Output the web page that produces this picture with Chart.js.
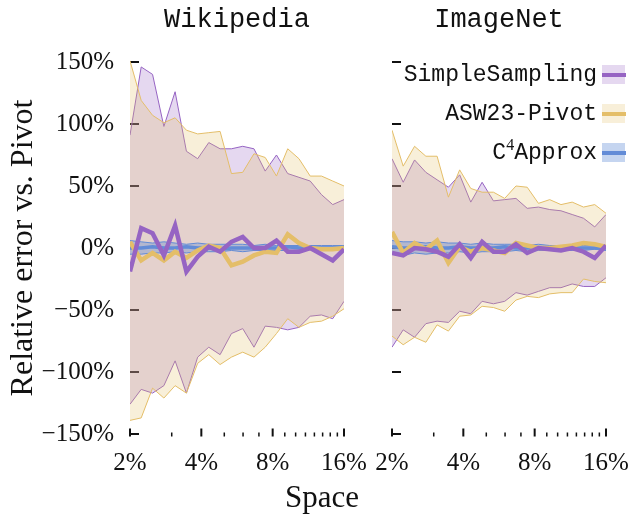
<!DOCTYPE html>
<html>
<head>
<meta charset="utf-8">
<script src="https://cdn.jsdelivr.net/npm/chart.js@4.4.1/dist/chart.umd.min.js"></script>
<style>
  body { margin: 0; background: #fff; }
  #figure { position: relative; width: 628px; height: 518px; overflow: hidden; }
  canvas { position: absolute; top: 0; }
  #wiki-canvas { left: 0; }
  #imagenet-canvas { left: 356px; }
  .panel-title { position: absolute; top: 2px; line-height: 36px; font-family: "Liberation Mono", monospace; font-size: 27px; color: #111; transform: translateX(-50%); white-space: nowrap; }
  #x-title { position: absolute; left: 322px; top: 479px; line-height: 36px; font-family: "Liberation Serif", serif; font-size: 31px; color: #111; transform: translateX(-50%); }
  #legend { position: absolute; right: 3px; top: 55px; list-style: none; margin: 0; padding: 0; }
  #legend li { display: flex; justify-content: flex-end; align-items: center; height: 39px; font-family: "Liberation Mono", monospace; font-size: 23px; color: #111; }
  #legend .swatch { position: relative; width: 23px; height: 19px; margin-left: 5px; }
  #legend .swatch span { position: absolute; left: 0; right: -1px; top: 7.5px; height: 4px; }
  #legend sup { font-family: "Liberation Serif", serif; font-size: 16px; line-height: 0; }
</style>
</head>
<body>
<div id="figure">
  <canvas id="wiki-canvas" width="380" height="518"></canvas>
  <canvas id="imagenet-canvas" width="292" height="518"></canvas>
  <div class="panel-title" id="wiki-title">Wikipedia</div>
  <div class="panel-title" id="imagenet-title">ImageNet</div>
  <div id="x-title">Space</div>
  <ul id="legend"></ul>
</div>
<script>
'use strict';

// space in percent, one point per sample size
const spaceFractions = [2.00, 2.23, 2.49, 2.78, 3.10, 3.46, 3.86, 4.30, 4.80, 5.36, 5.98, 6.67, 7.44, 8.30, 9.26, 10.33, 11.52, 12.86, 14.34, 16.00];
const xMajorTicks = [2, 4, 8, 16];
const xMinorTicks = [3, 5, 6, 7, 9, 10, 11, 12, 13, 14, 15];
const yTickValues = [-150, -100, -50, 0, 50, 100, 150];

// Wikipedia
const wikiSimpleMean = [-19, 16, 12, -6, 18, -19, -7, 1, -3, 5, 9, 0, 0, 6, -3, -3, 0, -5, -10, -1];
const wikiSimpleLow = [-126, -114, -117, -111, -91, -117, -88, -80, -86, -69, -65, -80, -63, -64, -66, -64, -55, -54, -57, -43];
const wikiSimpleHigh = [91, 146, 140, 98, 126, 78, 72, 85, 80, 80, 82, 80, 62, 75, 60, 57, 54, 43, 35, 39];
const wikiPivotMean = [5, -10, -4, -10, -3, -8, -2, 2, 0, -14, -11, -6, -3, -4, 11, 4, 0, -1, -1, 0];
const wikiPivotLow = [-139, -137, -113, -121, -111, -117, -93, -86, -94, -88, -84, -88, -80, -69, -57, -64, -60, -59, -55, -49];
const wikiPivotHigh = [151, 119, 107, 101, 105, 95, 92, 93, 94, 60, 61, 76, 73, 58, 80, 72, 58, 58, 54, 50];
const wikiApproxMean = [0, 0, 1, 0, 0, 1, 0, 0, -1, 0, 0, 0, 0, 0, 1, 0, 0, 0, 0, 0];
const wikiApproxLow = [-5, -5, -4, -4, -3, -4, -3, -3, -3, -2, -3, -2, -2, -2, -2, -2, -1, -2, -1, -1];
const wikiApproxHigh = [6, 5, 4, 5, 4, 3, 4, 3, 3, 3, 3, 2, 3, 2, 2, 2, 2, 2, 2, 2];

// ImageNet
const inetSimpleMean = [-4, -6, 0, -1, -3, -7, 3, -8, 5, -3, -3, 3, -4, 0, -1, -2, 0, -3, -8, 2];
const inetSimpleLow = [-80, -66, -72, -61, -59, -60, -51, -53, -43, -45, -43, -36, -38, -35, -32, -32, -29, -31, -31, -24];
const inetSimpleHigh = [72, 53, 71, 61, 55, 49, 59, 37, 53, 38, 39, 40, 32, 33, 31, 30, 27, 24, 17, 27];
const inetPivotMean = [13, -4, 4, -1, 6, -12, 1, -3, 0, -2, -4, 4, 2, 0, 0, 1, 2, 4, 3, 1];
const inetPivotLow = [-71, -78, -72, -76, -62, -67, -55, -54, -47, -48, -51, -42, -39, -40, -37, -36, -36, -25, -27, -28];
const inetPivotHigh = [95, 66, 82, 74, 74, 41, 63, 48, 45, 45, 40, 50, 49, 36, 39, 35, 37, 33, 35, 28];
const inetApproxMean = [1, 0, 0, 1, 0, 0, 1, 0, 0, 0, 1, 0, 0, 0, 0, 1, 0, 0, 0, 0];
const inetApproxLow = [-5, -6, -4, -5, -4, -4, -3, -4, -3, -3, -3, -2, -3, -2, -2, -2, -2, -2, -1, -2];
const inetApproxHigh = [6, 5, 5, 4, 5, 4, 4, 3, 4, 3, 3, 3, 2, 3, 2, 2, 2, 2, 2, 2];

const methodNames = ['SimpleSampling', 'ASW23-Pivot', 'C<sup>4</sup>Approx'];
const lineColors = ['#9664c3', '#e4be69', '#638cd7'];
const bandColors = ['rgba(150, 100, 195, 0.25)', 'rgba(228, 190, 105, 0.25)', 'rgba(90, 134, 212, 0.35)'];
const meanWidths = [4.5, 4.5, 3.5];

const serif = 'Liberation Serif, DejaVu Serif, serif';

function points(values) {
    return values.map((v, i) => ({x: spaceFractions[i], y: v}));
}

// short inward ticks, drawn under the data
const tickMarks = {
    id: 'tickMarks',
    beforeDatasetsDraw(chart) {
        let ctx = chart.ctx;
        let area = chart.chartArea;
        let x = chart.scales.x;
        let y = chart.scales.y;
        ctx.save();
        ctx.strokeStyle = '#111';
        ctx.lineWidth = 2;
        ctx.beginPath();
        yTickValues.forEach(v => {
            let py = y.getPixelForValue(v);
            ctx.moveTo(area.left, py);
            ctx.lineTo(area.left + 9, py);
        });
        xMajorTicks.forEach(v => {
            let px = x.getPixelForValue(v);
            ctx.moveTo(px, area.bottom);
            ctx.lineTo(px, area.bottom - 8);
        });
        ctx.stroke();
        ctx.lineWidth = 1.5;
        ctx.beginPath();
        xMinorTicks.forEach(v => {
            let px = x.getPixelForValue(v);
            ctx.moveTo(px, area.bottom);
            ctx.lineTo(px, area.bottom - 4);
        });
        ctx.stroke();
        ctx.restore();
    }
};

function createPanel(canvasId, padding, means, lows, highs, showYAxis) {
    let datasets = [];
    for (let i = 0; i < 3; i++) {
        datasets.push({data: points(means[i]), borderColor: lineColors[i], borderWidth: meanWidths[i], fill: false});
    }
    //bands: C4Approx on top, SimpleSampling at the bottom
    [2, 1, 0].forEach(i => {
        datasets.push({data: points(highs[i]), borderColor: lineColors[i], borderWidth: 1, backgroundColor: bandColors[i], fill: '+1'});
        datasets.push({data: points(lows[i]), borderColor: lineColors[i], borderWidth: 1, fill: false});
    });

    return new Chart(document.getElementById(canvasId), {
        type: 'line',
        data: {datasets: datasets},
        options: {
            responsive: false,
            animation: false,
            layout: {padding: padding},
            elements: {point: {radius: 0}, line: {tension: 0}},
            plugins: {legend: {display: false}, tooltip: {enabled: false}},
            scales: {
                x: {
                    type: 'logarithmic',
                    min: 2,
                    max: 16,
                    afterBuildTicks: scale => {
                        scale.ticks = xMajorTicks.concat(xMinorTicks).sort((a, b) => a - b).map(v => ({value: v}));
                    },
                    afterFit: scale => { scale.height = 81.5; },
                    grid: {display: false},
                    border: {display: false},
                    ticks: {
                        autoSkip: false,
                        maxRotation: 0,
                        padding: 4,
                        color: '#111',
                        font: {family: serif, size: 25},
                        callback: v => xMajorTicks.includes(v) ? v + '%' : ''
                    }
                },
                y: {
                    display: showYAxis,
                    min: -152,
                    max: 152,
                    afterBuildTicks: scale => {
                        scale.ticks = yTickValues.map(v => ({value: v}));
                    },
                    afterFit: scale => { scale.width = showYAxis ? 128 : 0; },
                    grid: {display: false},
                    border: {display: false},
                    ticks: {
                        padding: 8,
                        color: '#111',
                        font: {family: serif, size: 25},
                        callback: v => (v < 0 ? '\u2212' + (-v) : v) + '%'
                    },
                    title: {
                        display: true,
                        text: 'Relative error vs. Pivot',
                        color: '#111',
                        font: {family: serif, size: 32},
                        padding: {top: 2, bottom: 0}
                    }
                }
            }
        },
        plugins: [tickMarks]
    });
}

let wikiChart = createPanel('wiki-canvas', {left: 2, top: 59.5, right: 36, bottom: 0},
    [wikiSimpleMean, wikiPivotMean, wikiApproxMean],
    [wikiSimpleLow, wikiPivotLow, wikiApproxLow],
    [wikiSimpleHigh, wikiPivotHigh, wikiApproxHigh], true);

let inetChart = createPanel('imagenet-canvas', {left: 36, top: 59.5, right: 42, bottom: 0},
    [inetSimpleMean, inetPivotMean, inetApproxMean],
    [inetSimpleLow, inetPivotLow, inetApproxLow],
    [inetSimpleHigh, inetPivotHigh, inetApproxHigh], false);

//panel titles centred over each plot area
function placeTitle(id, chart, canvasLeft) {
    let area = chart.chartArea;
    document.getElementById(id).style.left = (canvasLeft + (area.left + area.right) / 2) + 'px';
}
placeTitle('wiki-title', wikiChart, 0);
placeTitle('imagenet-title', inetChart, 356);

//legend with a band swatch and a line through it
(function createLegend() {
    let legend = document.getElementById('legend');
    for (let i = 0; i < methodNames.length; i++) {
        let li = document.createElement('li');
        li.innerHTML = `<span class="label">${methodNames[i]}</span><span class="swatch" style="background-color: ${bandColors[i]};"><span style="background-color: ${lineColors[i]};"></span></span>`;
        legend.appendChild(li);
    }
})();
</script>
</body>
</html>
